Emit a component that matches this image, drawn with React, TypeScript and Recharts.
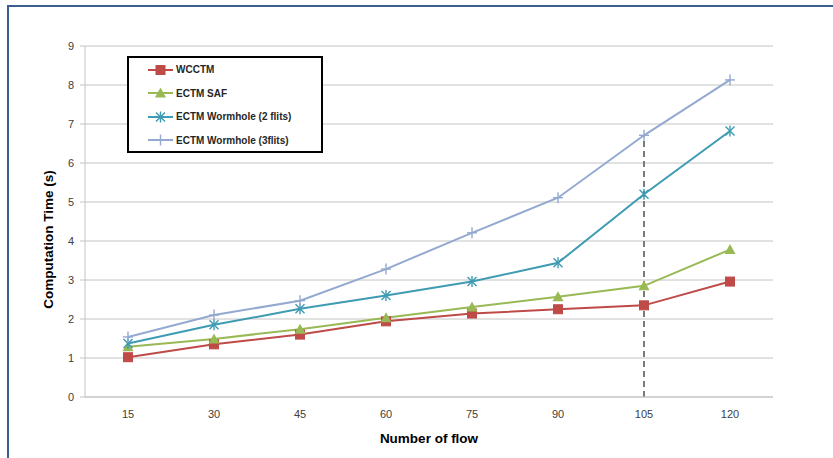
import React from 'react';
import { LineChart, Line, XAxis, YAxis, CartesianGrid, ReferenceLine } from 'recharts';

const flows = ['15', '30', '45', '60', '75', '90', '105', '120'];
const wcctm = [1.02, 1.35, 1.6, 1.94, 2.14, 2.25, 2.35, 2.96];
const ectmSaf = [1.29, 1.49, 1.74, 2.03, 2.31, 2.57, 2.85, 3.78];
const wormhole2 = [1.37, 1.85, 2.26, 2.6, 2.96, 3.44, 5.2, 6.82];
const wormhole3 = [1.54, 2.1, 2.47, 3.28, 4.21, 5.11, 6.71, 8.13];
const yTicks = [0, 1, 2, 3, 4, 5, 6, 7, 8, 9];
const markedFlow = '105';

const data = flows.map((f, i) => ({
  flow: f,
  wcctm: wcctm[i],
  saf: ectmSaf[i],
  wh2: wormhole2[i],
  wh3: wormhole3[i],
}));

const markedValue = wormhole3[flows.indexOf(markedFlow)];

const FONT = '"Liberation Sans", Arial, sans-serif';

const Square = ({ cx, cy, color }: any) => (
  <rect x={cx - 4.5} y={cy - 4.5} width={9} height={9} fill={color} stroke={color} />
);
const Triangle = ({ cx, cy, color }: any) => (
  <path d={`M${cx},${cy - 5.5} L${cx + 5.5},${cy + 4.5} L${cx - 5.5},${cy + 4.5} Z`} fill={color} />
);
const Asterisk = ({ cx, cy, color }: any) => (
  <g stroke={color} strokeWidth={1.4}>
    <line x1={cx - 4.5} y1={cy - 4.5} x2={cx + 4.5} y2={cy + 4.5} />
    <line x1={cx - 4.5} y1={cy + 4.5} x2={cx + 4.5} y2={cy - 4.5} />
    <line x1={cx} y1={cy - 5.5} x2={cx} y2={cy + 5.5} />
  </g>
);
const Plus = ({ cx, cy, color }: any) => (
  <g stroke={color} strokeWidth={1.4}>
    <line x1={cx - 5} y1={cy} x2={cx + 5} y2={cy} />
    <line x1={cx} y1={cy - 5.5} x2={cx} y2={cy + 5.5} />
  </g>
);

const series = [
  { key: 'wcctm', name: 'WCCTM', color: '#BE4B48', marker: Square },
  { key: 'saf', name: 'ECTM SAF', color: '#98B954', marker: Triangle },
  { key: 'wh2', name: 'ECTM Wormhole (2 flits)', color: '#3E9BB2', marker: Asterisk },
  { key: 'wh3', name: 'ECTM Wormhole (3flits)', color: '#93A9D0', marker: Plus },
];

// legend drawn outside the chart so it doesn't eat plot space
const LegendBox = () => (
  <div
    style={{
      position: 'absolute',
      left: 127,
      top: 56,
      border: '2px solid #000',
      width: 192,
      height: 93,
      background: '#fff',
      paddingTop: 0,
    }}
  >
    {series.map(s => {
      const M = s.marker;
      return (
        <div key={s.key} style={{ display: 'flex', alignItems: 'center', height: 23.5, paddingLeft: 19 }}>
          <svg width={25} height={14} style={{ display: 'block' }}>
            <line x1={0} y1={7} x2={25} y2={7} stroke={s.color} strokeWidth={2} />
            <M cx={12.5} cy={7} color={s.color} />
          </svg>
          <span style={{ marginLeft: 3, fontFamily: FONT, fontWeight: 'bold', fontSize: 10, color: '#262626' }}>
            {s.name}
          </span>
        </div>
      );
    })}
  </div>
);

const YLabel = ({ viewBox }: any) => {
  const x = viewBox.x + 8;
  const y = viewBox.y + viewBox.height / 2 + 18;
  return (
    <text
      x={x}
      y={y}
      transform={`rotate(-90, ${x}, ${y})`}
      textAnchor="middle"
      dominantBaseline="central"
      fontFamily={FONT}
      fontWeight="bold"
      fontSize={13.5}
      fill="#000"
    >
      Computation Time (s)
    </text>
  );
};

export default function App() {
  return (
    <div style={{ position: 'absolute', left: 0, top: 0, width: 833, height: 458, background: '#fff' }}>
      <div
        style={{
          position: 'absolute',
          left: 7,
          top: 5,
          width: 826,
          height: 453,
          borderTop: '2px solid #3B5E8C',
          borderLeft: '2px solid #3B5E8C',
        }}
      />
      <LineChart
        width={833}
        height={458}
        data={data}
        margin={{ top: 46, right: 60, bottom: 0, left: 40 }}
        style={{ position: 'absolute', left: 0, top: 0 }}
      >
        <CartesianGrid vertical={false} stroke="#c4c4c4" strokeWidth={1} />
        <XAxis
          dataKey="flow"
          padding={{ left: 43, right: 43 }}
          height={61}
          stroke="#c4c4c4"
          tickLine={false}
          tickMargin={7}
          tick={{ fill: '#404040', fontSize: 11, fontFamily: FONT }}
          label={{
            value: 'Number of flow',
            position: 'insideBottom',
            offset: 15,
            fill: '#000',
            fontSize: 13.5,
            fontWeight: 'bold',
            fontFamily: FONT,
          }}
        />
        <YAxis
          width={45}
          domain={[0, 9]}
          ticks={yTicks}
          interval={0}
          stroke="#c4c4c4"
          tickSize={5}
          tickMargin={6}
          tick={{ fill: '#404040', fontSize: 11, fontFamily: FONT }}
          label={<YLabel />}
        />
        <ReferenceLine
          segment={[
            { x: markedFlow, y: 0 },
            { x: markedFlow, y: markedValue },
          ]}
          stroke="#7a7a7a"
          strokeWidth={2}
          strokeDasharray="6 4"
        />
        {series.map(s => {
          const M = s.marker;
          return (
            <Line
              key={s.key}
              type="linear"
              dataKey={s.key}
              name={s.name}
              stroke={s.color}
              strokeWidth={2}
              isAnimationActive={false}
              dot={(p: any) => <M key={`${s.key}-${p.index}`} cx={p.cx} cy={p.cy} color={s.color} />}
            />
          );
        })}
      </LineChart>
      <LegendBox />
    </div>
  );
}
